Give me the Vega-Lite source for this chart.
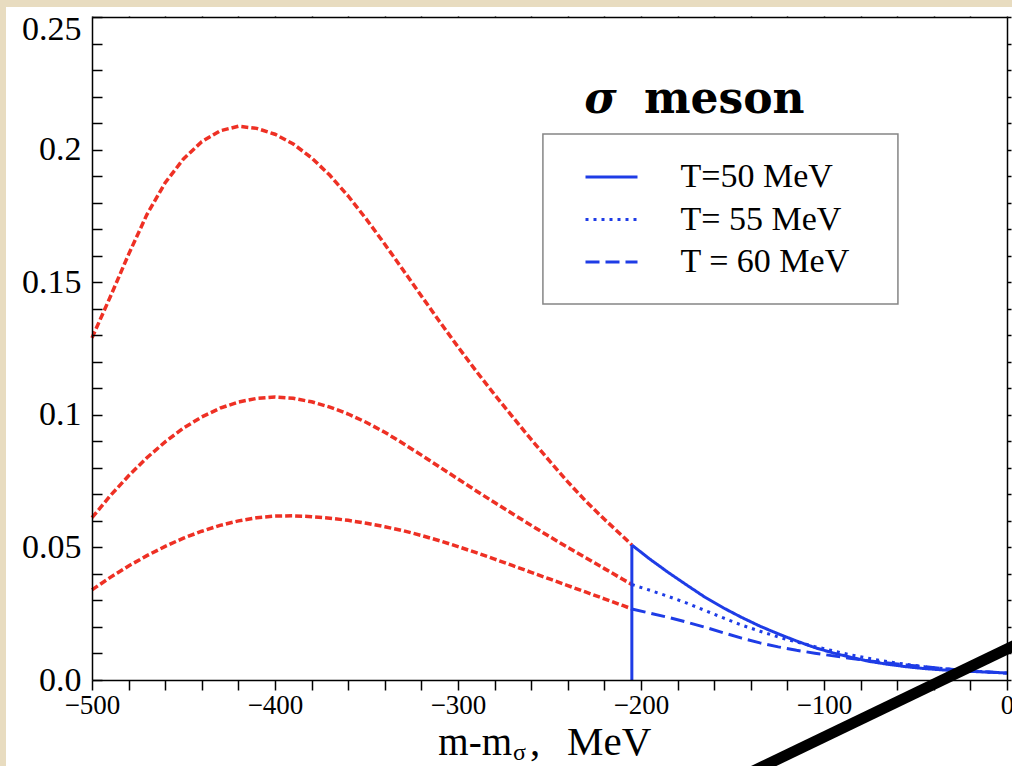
{
  "$schema": "https://vega.github.io/schema/vega-lite/v6.json",
  "width": 915,
  "height": 663,
  "autosize": {"type": "none"},
  "padding": {"left": 92, "top": 17, "right": 5, "bottom": 86},
  "background": "#e8dcc0",
  "config": {"view": {"stroke": null}},
  "datasets": {
    "panel": [{"x": -547, "x2": 20, "y": -0.06, "y2": 0.2538}],
    "box": [{"x": -253.6, "x2": -59.6, "y": 0.1418, "y2": 0.2059}],
    "red": [
      {"c": "A", "x": -500, "y": 0.129}, {"c": "A", "x": -490, "y": 0.1445}, {"c": "A", "x": -480, "y": 0.1605},
      {"c": "A", "x": -470, "y": 0.1755}, {"c": "A", "x": -460, "y": 0.1875}, {"c": "A", "x": -450, "y": 0.1965},
      {"c": "A", "x": -440, "y": 0.203}, {"c": "A", "x": -430, "y": 0.2071}, {"c": "A", "x": -420, "y": 0.2088},
      {"c": "A", "x": -410, "y": 0.208}, {"c": "A", "x": -400, "y": 0.2058}, {"c": "A", "x": -390, "y": 0.2021},
      {"c": "A", "x": -380, "y": 0.1969}, {"c": "A", "x": -370, "y": 0.1903}, {"c": "A", "x": -360, "y": 0.1825},
      {"c": "A", "x": -350, "y": 0.1737}, {"c": "A", "x": -340, "y": 0.1643}, {"c": "A", "x": -330, "y": 0.1546},
      {"c": "A", "x": -320, "y": 0.1448}, {"c": "A", "x": -310, "y": 0.1351}, {"c": "A", "x": -300, "y": 0.1256},
      {"c": "A", "x": -290, "y": 0.1164}, {"c": "A", "x": -280, "y": 0.1076}, {"c": "A", "x": -270, "y": 0.0991},
      {"c": "A", "x": -260, "y": 0.0907}, {"c": "A", "x": -250, "y": 0.0826}, {"c": "A", "x": -240, "y": 0.0747},
      {"c": "A", "x": -230, "y": 0.0673}, {"c": "A", "x": -220, "y": 0.0606}, {"c": "A", "x": -210, "y": 0.0542},
      {"c": "A", "x": -205, "y": 0.0509},
      {"c": "B", "x": -500, "y": 0.0612}, {"c": "B", "x": -490, "y": 0.0695}, {"c": "B", "x": -480, "y": 0.077},
      {"c": "B", "x": -470, "y": 0.0838}, {"c": "B", "x": -460, "y": 0.0898}, {"c": "B", "x": -450, "y": 0.095},
      {"c": "B", "x": -440, "y": 0.0992}, {"c": "B", "x": -430, "y": 0.1025}, {"c": "B", "x": -420, "y": 0.1048},
      {"c": "B", "x": -410, "y": 0.1062}, {"c": "B", "x": -400, "y": 0.1067}, {"c": "B", "x": -390, "y": 0.1062},
      {"c": "B", "x": -380, "y": 0.1049}, {"c": "B", "x": -370, "y": 0.1029}, {"c": "B", "x": -360, "y": 0.1003},
      {"c": "B", "x": -350, "y": 0.0971}, {"c": "B", "x": -340, "y": 0.0934}, {"c": "B", "x": -330, "y": 0.0892},
      {"c": "B", "x": -320, "y": 0.0848}, {"c": "B", "x": -310, "y": 0.0803}, {"c": "B", "x": -300, "y": 0.0758},
      {"c": "B", "x": -290, "y": 0.0713}, {"c": "B", "x": -280, "y": 0.0669}, {"c": "B", "x": -270, "y": 0.0626},
      {"c": "B", "x": -260, "y": 0.0583}, {"c": "B", "x": -250, "y": 0.0541}, {"c": "B", "x": -240, "y": 0.05},
      {"c": "B", "x": -230, "y": 0.046}, {"c": "B", "x": -220, "y": 0.042}, {"c": "B", "x": -210, "y": 0.038},
      {"c": "B", "x": -205, "y": 0.036},
      {"c": "C", "x": -500, "y": 0.034}, {"c": "C", "x": -490, "y": 0.0387}, {"c": "C", "x": -480, "y": 0.043},
      {"c": "C", "x": -470, "y": 0.0469}, {"c": "C", "x": -460, "y": 0.0504}, {"c": "C", "x": -450, "y": 0.0535},
      {"c": "C", "x": -440, "y": 0.0561}, {"c": "C", "x": -430, "y": 0.0583}, {"c": "C", "x": -420, "y": 0.06},
      {"c": "C", "x": -410, "y": 0.0612}, {"c": "C", "x": -400, "y": 0.0618}, {"c": "C", "x": -390, "y": 0.0619},
      {"c": "C", "x": -380, "y": 0.0616}, {"c": "C", "x": -370, "y": 0.061}, {"c": "C", "x": -360, "y": 0.0602},
      {"c": "C", "x": -350, "y": 0.0591}, {"c": "C", "x": -340, "y": 0.0578}, {"c": "C", "x": -330, "y": 0.0563},
      {"c": "C", "x": -320, "y": 0.0545}, {"c": "C", "x": -310, "y": 0.0525}, {"c": "C", "x": -300, "y": 0.0503},
      {"c": "C", "x": -290, "y": 0.048}, {"c": "C", "x": -280, "y": 0.0456}, {"c": "C", "x": -270, "y": 0.0431},
      {"c": "C", "x": -260, "y": 0.0406}, {"c": "C", "x": -250, "y": 0.0381}, {"c": "C", "x": -240, "y": 0.0356},
      {"c": "C", "x": -230, "y": 0.0331}, {"c": "C", "x": -220, "y": 0.0306}, {"c": "C", "x": -210, "y": 0.0281},
      {"c": "C", "x": -205, "y": 0.0268}
    ],
    "blue": [
      {"s": "T=50 MeV", "x": -205, "y": 0.0509}, {"s": "T=50 MeV", "x": -195, "y": 0.0455}, {"s": "T=50 MeV", "x": -185, "y": 0.0405},
      {"s": "T=50 MeV", "x": -175, "y": 0.0358}, {"s": "T=50 MeV", "x": -165, "y": 0.0312}, {"s": "T=50 MeV", "x": -155, "y": 0.0272},
      {"s": "T=50 MeV", "x": -145, "y": 0.0236}, {"s": "T=50 MeV", "x": -135, "y": 0.0203}, {"s": "T=50 MeV", "x": -125, "y": 0.0174},
      {"s": "T=50 MeV", "x": -115, "y": 0.0147}, {"s": "T=50 MeV", "x": -105, "y": 0.0122}, {"s": "T=50 MeV", "x": -95, "y": 0.0102},
      {"s": "T=50 MeV", "x": -85, "y": 0.0085}, {"s": "T=50 MeV", "x": -75, "y": 0.007}, {"s": "T=50 MeV", "x": -65, "y": 0.0059},
      {"s": "T=50 MeV", "x": -55, "y": 0.005}, {"s": "T=50 MeV", "x": -45, "y": 0.0043}, {"s": "T=50 MeV", "x": -35, "y": 0.0038},
      {"s": "T=50 MeV", "x": -25, "y": 0.0034}, {"s": "T=50 MeV", "x": -15, "y": 0.0031}, {"s": "T=50 MeV", "x": -5, "y": 0.0028},
      {"s": "T=50 MeV", "x": 0, "y": 0.0026},
      {"s": "T= 55 MeV", "x": -205, "y": 0.036}, {"s": "T= 55 MeV", "x": -195, "y": 0.0338}, {"s": "T= 55 MeV", "x": -185, "y": 0.0315},
      {"s": "T= 55 MeV", "x": -175, "y": 0.029}, {"s": "T= 55 MeV", "x": -165, "y": 0.0262}, {"s": "T= 55 MeV", "x": -155, "y": 0.0234},
      {"s": "T= 55 MeV", "x": -145, "y": 0.0207}, {"s": "T= 55 MeV", "x": -135, "y": 0.0184}, {"s": "T= 55 MeV", "x": -125, "y": 0.0162},
      {"s": "T= 55 MeV", "x": -115, "y": 0.0143}, {"s": "T= 55 MeV", "x": -105, "y": 0.0126}, {"s": "T= 55 MeV", "x": -95, "y": 0.011},
      {"s": "T= 55 MeV", "x": -85, "y": 0.0094}, {"s": "T= 55 MeV", "x": -75, "y": 0.0081}, {"s": "T= 55 MeV", "x": -65, "y": 0.0069},
      {"s": "T= 55 MeV", "x": -55, "y": 0.0059}, {"s": "T= 55 MeV", "x": -45, "y": 0.005}, {"s": "T= 55 MeV", "x": -35, "y": 0.0043},
      {"s": "T= 55 MeV", "x": -25, "y": 0.0037}, {"s": "T= 55 MeV", "x": -15, "y": 0.0032}, {"s": "T= 55 MeV", "x": -5, "y": 0.0028},
      {"s": "T= 55 MeV", "x": 0, "y": 0.0026},
      {"s": "T = 60 MeV", "x": -205, "y": 0.0268}, {"s": "T = 60 MeV", "x": -195, "y": 0.0252}, {"s": "T = 60 MeV", "x": -185, "y": 0.0236},
      {"s": "T = 60 MeV", "x": -175, "y": 0.0218}, {"s": "T = 60 MeV", "x": -165, "y": 0.0199}, {"s": "T = 60 MeV", "x": -155, "y": 0.0178},
      {"s": "T = 60 MeV", "x": -145, "y": 0.0158}, {"s": "T = 60 MeV", "x": -135, "y": 0.014}, {"s": "T = 60 MeV", "x": -125, "y": 0.0125},
      {"s": "T = 60 MeV", "x": -115, "y": 0.0112}, {"s": "T = 60 MeV", "x": -105, "y": 0.0101}, {"s": "T = 60 MeV", "x": -95, "y": 0.0091},
      {"s": "T = 60 MeV", "x": -85, "y": 0.0081}, {"s": "T = 60 MeV", "x": -75, "y": 0.0072}, {"s": "T = 60 MeV", "x": -65, "y": 0.0064},
      {"s": "T = 60 MeV", "x": -55, "y": 0.0057}, {"s": "T = 60 MeV", "x": -45, "y": 0.005}, {"s": "T = 60 MeV", "x": -35, "y": 0.0043},
      {"s": "T = 60 MeV", "x": -25, "y": 0.0037}, {"s": "T = 60 MeV", "x": -15, "y": 0.0032}, {"s": "T = 60 MeV", "x": -5, "y": 0.0028},
      {"s": "T = 60 MeV", "x": 0, "y": 0.0026}
    ],
    "edge": [{"x": -205, "y": 0, "y2": 0.0509}],
    "sigma": [{"t": "σ", "x": -231, "y": 0.2138}],
    "meson": [{"t": "meson", "x": -198.4, "y": 0.2138}],
    "xt1": [{"t": "m-m", "x": -270.5, "y": -0.0283}],
    "xt2": [{"t": "σ", "x": -270.0, "y": -0.0302}],
    "xt3": [{"t": ",", "x": -260.7, "y": -0.0283}],
    "xt4": [{"t": "MeV", "x": -240.4, "y": -0.0283}],
    "slash": [{"x": -143.7, "y": -0.036, "x2": 12, "y2": 0.0157}],
    "anchor": [{"x": -500, "y": 0}]
  },
  "layer": [
    {
      "data": {"name": "panel"},
      "mark": {"type": "rect", "fill": "white"},
      "encoding": {
        "x": {"field": "x", "type": "quantitative", "scale": {"domain": [-500, 0], "nice": false, "zero": false}, "axis": null},
        "x2": {"field": "x2"},
        "y": {"field": "y", "type": "quantitative", "scale": {"domain": [0, 0.25], "nice": false}, "axis": null},
        "y2": {"field": "y2"}
      }
    },
    {
      "data": {"name": "box"},
      "mark": {"type": "rect", "fill": "white", "stroke": "#858585", "strokeWidth": 1.5},
      "encoding": {
        "x": {"field": "x", "type": "quantitative", "scale": {"domain": [-500, 0], "nice": false, "zero": false}, "axis": null},
        "x2": {"field": "x2"},
        "y": {"field": "y", "type": "quantitative", "scale": {"domain": [0, 0.25], "nice": false}, "axis": null},
        "y2": {"field": "y2"}
      }
    },
    {
      "data": {"name": "red"},
      "mark": {"type": "line", "color": "#ee3024", "strokeWidth": 3.5, "strokeDash": [7, 3]},
      "encoding": {
        "x": {
          "field": "x", "type": "quantitative",
          "scale": {"domain": [-500, 0], "nice": false, "zero": false},
          "axis": {
            "orient": "bottom", "title": null, "grid": false, "zindex": 1, "ticks": true, "tickSize": 10,
            "values": [-500, -480, -460, -440, -420, -400, -380, -360, -340, -320, -300, -280, -260, -240, -220, -200, -180, -160, -140, -120, -100, -80, -60, -40, -20, 0],
            "labelExpr": "datum.value % 100 === 0 ? format(datum.value, 'd') : ''",
            "encode": {"ticks": {"update": {"y2": {"signal": "datum.value % 100 === 0 ? -10 : -6"}}}},
            "tickColor": "black", "tickWidth": 1.5,
            "domainColor": "black", "domainWidth": 1.5,
            "labelFont": "Liberation Serif", "labelFontSize": 27, "labelColor": "black",
            "labelPadding": 2, "labelFlush": false, "labelOverlap": false, "labelBound": false
          }
        },
        "y": {
          "field": "y", "type": "quantitative",
          "scale": {"domain": [0, 0.25], "nice": false},
          "axis": {
            "orient": "left", "title": null, "grid": false, "zindex": 1, "ticks": true, "tickSize": -10,
            "values": [0, 0.01, 0.02, 0.03, 0.04, 0.05, 0.06, 0.07, 0.08, 0.09, 0.1, 0.11, 0.12, 0.13, 0.14, 0.15, 0.16, 0.17, 0.18, 0.19, 0.2, 0.21, 0.22, 0.23, 0.24, 0.25],
            "labelExpr": "abs(datum.value*20 - round(datum.value*20)) < 0.000001 ? (datum.value == 0 ? '0.0' : format(datum.value, '.2~f')) : ''",
            "encode": {"ticks": {"update": {"x2": {"signal": "abs(datum.value*20 - round(datum.value*20)) < 0.000001 ? 10 : 6"}}}},
            "labelOffset": {"condition": {"test": "datum.value > 0.245", "value": 12}, "value": 0},
            "tickColor": "black", "tickWidth": 1.5,
            "domainColor": "black", "domainWidth": 1.5,
            "labelFont": "Liberation Serif", "labelFontSize": 34, "labelColor": "black",
            "labelPadding": 21, "labelOverlap": false, "labelBound": false, "labelFlush": false
          }
        },
        "detail": {"field": "c", "type": "nominal"}
      }
    },
    {
      "data": {"name": "blue"},
      "mark": {"type": "line", "color": "#1e3ce6", "strokeWidth": 3},
      "encoding": {
        "x": {"field": "x", "type": "quantitative", "scale": {"domain": [-500, 0], "nice": false, "zero": false}, "axis": null},
        "y": {"field": "y", "type": "quantitative", "scale": {"domain": [0, 0.25], "nice": false}, "axis": null},
        "strokeDash": {
          "field": "s", "type": "nominal",
          "scale": {"domain": ["T=50 MeV", "T= 55 MeV", "T = 60 MeV"], "range": [[1, 0], [3, 5], [14, 6]]},
          "legend": {
            "orient": "none", "legendX": 502.5, "legendY": 143, "title": null,
            "symbolType": "M-2,0H2", "symbolSize": 676, "symbolStrokeColor": "#1e3ce6", "symbolStrokeWidth": 3,
            "labelFont": "Liberation Serif", "labelFontSize": 34, "labelColor": "black", "labelLimit": 400,
            "padding": 0, "symbolOffset": 0, "labelOffset": 52, "rowPadding": 8.5
          }
        }
      }
    },
    {
      "data": {"name": "edge"},
      "mark": {"type": "rule", "color": "#1e3ce6", "strokeWidth": 3},
      "encoding": {
        "x": {"field": "x", "type": "quantitative", "scale": {"domain": [-500, 0], "nice": false, "zero": false}, "axis": null},
        "y": {"field": "y", "type": "quantitative", "scale": {"domain": [0, 0.25], "nice": false}, "axis": null},
        "y2": {"field": "y2"}
      }
    },
    {
      "data": {"name": "sigma"},
      "mark": {"type": "text", "font": "DejaVu Serif", "fontWeight": "bold", "fontStyle": "italic", "fontSize": 44, "align": "left", "baseline": "alphabetic", "color": "black"},
      "encoding": {
        "x": {"field": "x", "type": "quantitative", "scale": {"domain": [-500, 0], "nice": false, "zero": false}, "axis": null},
        "y": {"field": "y", "type": "quantitative", "scale": {"domain": [0, 0.25], "nice": false}, "axis": null},
        "text": {"field": "t"}
      }
    },
    {
      "data": {"name": "meson"},
      "mark": {"type": "text", "font": "DejaVu Serif", "fontWeight": "bold", "fontSize": 44, "align": "left", "baseline": "alphabetic", "color": "black"},
      "encoding": {
        "x": {"field": "x", "type": "quantitative", "scale": {"domain": [-500, 0], "nice": false, "zero": false}, "axis": null},
        "y": {"field": "y", "type": "quantitative", "scale": {"domain": [0, 0.25], "nice": false}, "axis": null},
        "text": {"field": "t"}
      }
    },
    {
      "data": {"name": "xt1"},
      "mark": {"type": "text", "font": "Liberation Serif", "fontSize": 39, "align": "right", "baseline": "alphabetic", "color": "black"},
      "encoding": {
        "x": {"field": "x", "type": "quantitative", "scale": {"domain": [-500, 0], "nice": false, "zero": false}, "axis": null},
        "y": {"field": "y", "type": "quantitative", "scale": {"domain": [0, 0.25], "nice": false}, "axis": null},
        "text": {"field": "t"}
      }
    },
    {
      "data": {"name": "xt2"},
      "mark": {"type": "text", "font": "Liberation Serif", "fontSize": 24, "align": "left", "baseline": "alphabetic", "color": "black"},
      "encoding": {
        "x": {"field": "x", "type": "quantitative", "scale": {"domain": [-500, 0], "nice": false, "zero": false}, "axis": null},
        "y": {"field": "y", "type": "quantitative", "scale": {"domain": [0, 0.25], "nice": false}, "axis": null},
        "text": {"field": "t"}
      }
    },
    {
      "data": {"name": "xt3"},
      "mark": {"type": "text", "font": "Liberation Serif", "fontSize": 41, "align": "left", "baseline": "alphabetic", "color": "black"},
      "encoding": {
        "x": {"field": "x", "type": "quantitative", "scale": {"domain": [-500, 0], "nice": false, "zero": false}, "axis": null},
        "y": {"field": "y", "type": "quantitative", "scale": {"domain": [0, 0.25], "nice": false}, "axis": null},
        "text": {"field": "t"}
      }
    },
    {
      "data": {"name": "xt4"},
      "mark": {"type": "text", "font": "Liberation Serif", "fontSize": 41, "align": "left", "baseline": "alphabetic", "color": "black"},
      "encoding": {
        "x": {"field": "x", "type": "quantitative", "scale": {"domain": [-500, 0], "nice": false, "zero": false}, "axis": null},
        "y": {"field": "y", "type": "quantitative", "scale": {"domain": [0, 0.25], "nice": false}, "axis": null},
        "text": {"field": "t"}
      }
    },
    {
      "data": {"name": "slash"},
      "mark": {"type": "rule", "color": "black", "strokeWidth": 11, "strokeCap": "butt"},
      "encoding": {
        "x": {"field": "x", "type": "quantitative", "scale": {"domain": [-500, 0], "nice": false, "zero": false}, "axis": null},
        "y": {"field": "y", "type": "quantitative", "scale": {"domain": [0, 0.25], "nice": false}, "axis": null},
        "x2": {"field": "x2"},
        "y2": {"field": "y2"}
      }
    },
    {
      "data": {"name": "anchor"},
      "mark": {"type": "point", "opacity": 0},
      "encoding": {
        "x": {
          "field": "x", "type": "quantitative",
          "scale": {"domain": [-500, 0], "nice": false, "zero": false},
          "axis": {
            "orient": "top", "title": null, "grid": false, "labels": false, "zindex": 1, "ticks": true, "tickSize": 1,
            "values": [-500, -480, -460, -440, -420, -400, -380, -360, -340, -320, -300, -280, -260, -240, -220, -200, -180, -160, -140, -120, -100, -80, -60, -40, -20, 0],
            "encode": {"ticks": {"update": {"y2": {"signal": "datum.value % 100 === 0 ? 9 : 5"}}}},
            "tickColor": "black", "tickWidth": 1.5, "domainColor": "black", "domainWidth": 1.5
          }
        },
        "y": {
          "field": "y", "type": "quantitative",
          "scale": {"domain": [0, 0.25], "nice": false},
          "axis": {
            "orient": "right", "title": null, "grid": false, "labels": false, "zindex": 1, "ticks": true, "tickSize": 4,
            "values": [0, 0.01, 0.02, 0.03, 0.04, 0.05, 0.06, 0.07, 0.08, 0.09, 0.1, 0.11, 0.12, 0.13, 0.14, 0.15, 0.16, 0.17, 0.18, 0.19, 0.2, 0.21, 0.22, 0.23, 0.24, 0.25],
            "encode": {"ticks": {"update": {"x2": {"signal": "abs(datum.value*20 - round(datum.value*20)) < 0.000001 ? -9 : -5"}}}},
            "tickColor": "black", "tickWidth": 1.5, "domainColor": "black", "domainWidth": 1.5
          }
        }
      }
    }
  ],
  "resolve": {"axis": {"x": "independent", "y": "independent"}}
}
